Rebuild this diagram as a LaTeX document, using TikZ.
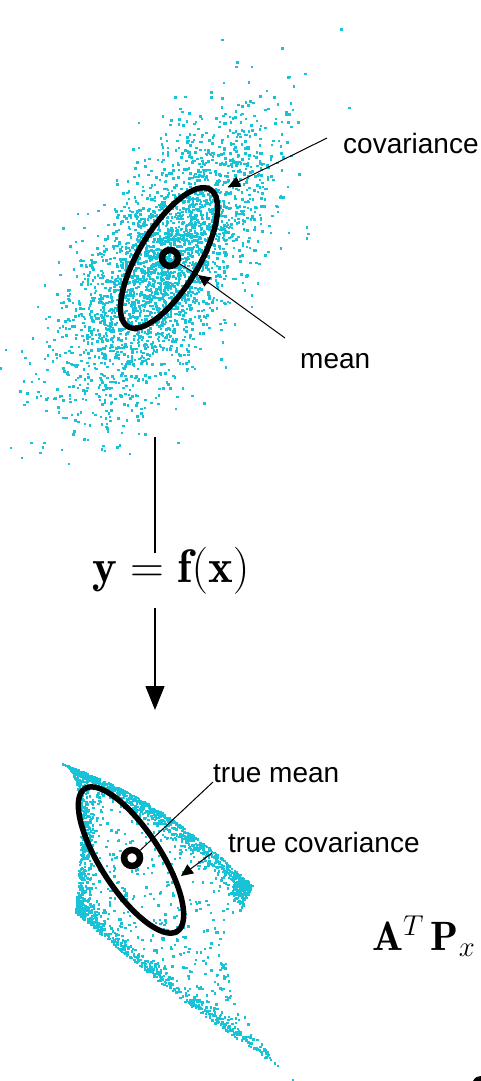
\RequirePackage{fix-cm}
\documentclass[tikz,border=0pt]{standalone}
\usepackage{fontspec}
\newfontfamily\labfont{Liberation Sans}
\usetikzlibrary{arrows.meta}
\definecolor{dotc}{RGB}{25,195,215}
\newcommand\bdot[2]{%
 \pgfmathsetmacro\myS{#1}%
 \pgfmathsetmacro\myT{#2}%
 \pgfmathsetmacro\px{(1-\myS)*(1-\myT)*60+\myS*(1-\myT)*252+\myS*\myT*277+(1-\myS)*\myT*75+15*sin(180*sqrt(\myT))*(1-\myS)-35*sin(180*\myT)*\myS}%
 \pgfmathsetmacro\py{(1-\myS)*(1-\myT)*763+\myS*(1-\myT)*885+\myS*\myT*1065+(1-\myS)*\myT*912-15*sin(180*\myS)*(1-\myT)+6*sin(180*\myS)*\myT}%
 \fill[dotc] (\px,\py) rectangle ++(2.4,2.4);}
\newcommand\halfg{\pgfmathsetmacro\hg{abs(sqrt(-2*ln(0.001+0.999*rnd))*cos(360*rnd))}}
\begin{document}
\begin{tikzpicture}[x=1pt,y=-1pt,
  lab/.style={font=\labfont\fontsize{28}{30}\selectfont, inner sep=0pt, anchor=base west},
  conn/.style={line width=1pt},
  tipped/.style={-{Triangle[length=12pt,width=11pt]}},
  ell/.style={line width=5.5pt},
  ring/.style={circle, draw, line width=6.5pt, minimum size=16pt, inner sep=0pt},
  axisline/.style={line width=1.3pt}
]
\useasboundingbox (0,0) rectangle (481,1081);
\clip (0,0) rectangle (481,1081);
% top gaussian cloud
\pgfmathsetseed{4242}
\foreach \i in {1,...,2800}{
  \pgfmathsetmacro\ua{0.001+0.999*rnd}
  \pgfmathsetmacro\ub{360*rnd}
  \pgfmathsetmacro\rr{sqrt(-2*ln(\ua))}
  \pgfmathsetmacro\px{165+\rr*(80*0.530*cos(\ub)+34*0.848*sin(\ub))}
  \pgfmathsetmacro\py{262+\rr*(-80*0.848*cos(\ub)+34*0.530*sin(\ub))}
  \fill[dotc] (\px,\py) rectangle ++(2.5,2.5);
}
% bottom transformed cloud
\foreach \i in {1,...,800}{\halfg\bdot{rnd}{0.05*\hg}}
\foreach \i in {1,...,350}{\halfg\bdot{0.05*\hg}{rnd}}
\foreach \i in {1,...,550}{\halfg\bdot{rnd^1.8}{1-0.06*\hg}}
\foreach \i in {1,...,100}{\halfg\bdot{1-0.05*\hg}{0.12*rnd}}
\foreach \i in {1,...,420}{\bdot{rnd}{rnd}}
\fill[dotc] (292,1079) rectangle ++(2.2,2.2);
% ellipses and means
\draw[ell, rotate around={59:(169,258)}] (169,258) ellipse [x radius=80, y radius=30];
\draw[ell, rotate around={-57:(131,860)}] (131,860) ellipse [x radius=85, y radius=30];
\node[ring] (m1) at (170,258) {};
\node[ring] (m2) at (132,858) {};
% labels
\node[lab] (clab) at (343,153) {covariance};
\node[lab] (mlab) at (300,368) {mean};
\node[lab] (tmlab) at (213,782) {true mean};
\node[lab] (tclab) at (228,852) {true covariance};
\node[inner sep=0pt, anchor=base, font=\fontsize{47}{52}\selectfont] (eq) at (171,582) {$\mathbf{y}=\mathbf{f}(\mathbf{x})$};
\node[inner sep=0pt, anchor=base west, font=\fontsize{41}{45}\selectfont] (atp) at (372,950) {$\mathbf{A}^T\mkern3mu\mathbf{P}_x$};
% connectors
\coordinate (ctip) at (228,187);
\coordinate (mtip) at (198,275);
\coordinate (tctip) at (181,876);
\draw[conn,tipped] ([shift={(-16,-15)}]clab.base west) -- (ctip);
\draw[conn,tipped] ([shift={(-15,-30)}]mlab.base west) -- (mtip);
\draw[conn] (mtip) -- (m1);
\draw[conn] (tmlab.base west) -- (m2);
\draw[conn,tipped] ([shift={(-16,1)}]tclab.base west) -- (tctip);
% vertical mapping arrow
\coordinate (vtop) at (155,437);
\coordinate (vmid) at (155,553);
\coordinate (vlow) at (155,608);
\coordinate (vend) at (155,710);
\draw[axisline] (vtop) -- (vmid);
\draw[axisline,-{Triangle[length=24pt,width=19pt]}] (vlow) -- (vend);
% cut-off fragment at lower right
\fill (473,1081) .. controls (475,1077) and (478,1076) .. (481,1076) -- (481,1081) -- cycle;
\end{tikzpicture}
\end{document}
